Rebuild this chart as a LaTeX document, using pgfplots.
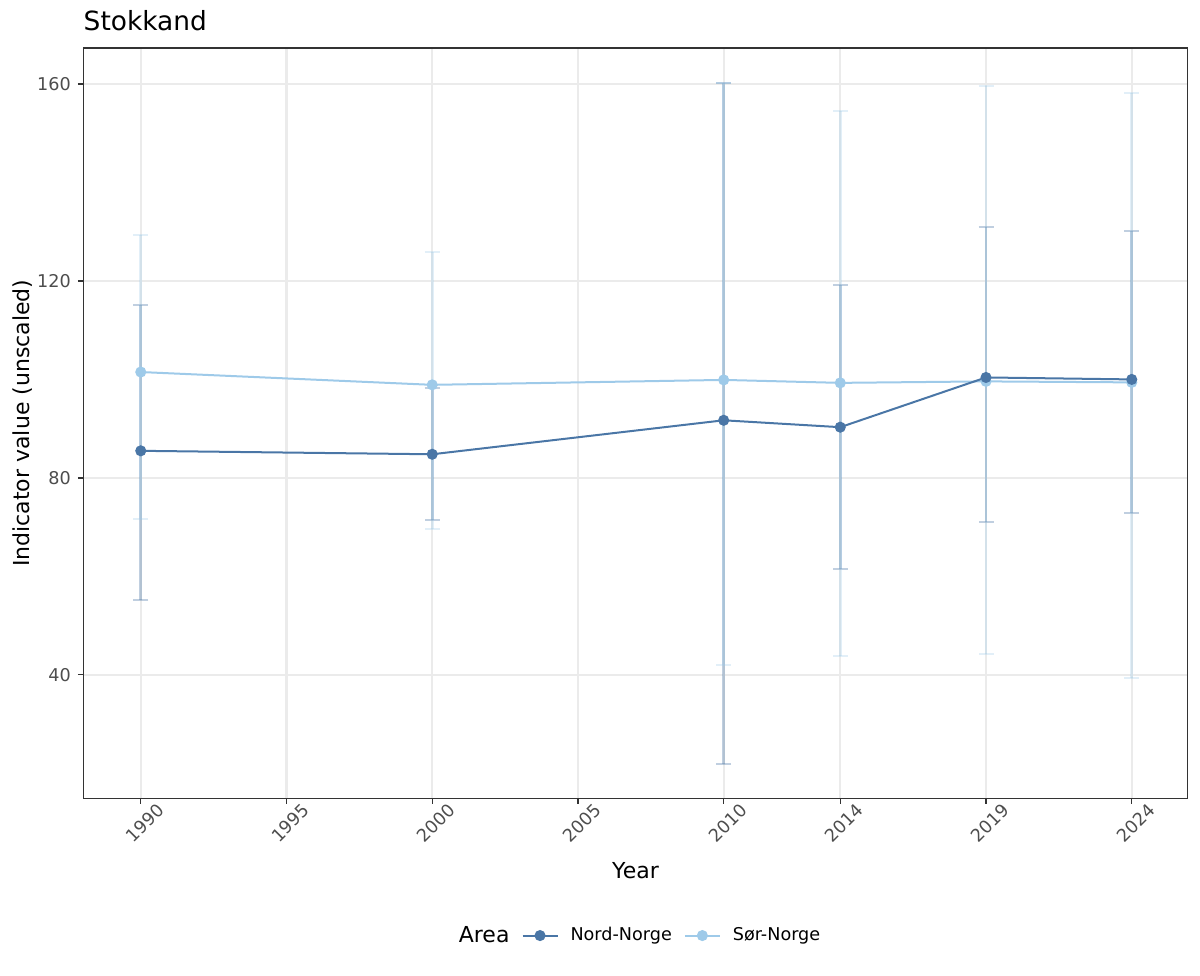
\documentclass[border=0pt]{standalone}
\usepackage{pgfplots}
\pgfplotsset{compat=1.18}
\usepackage{fontspec}
\setmainfont{DejaVu Sans}
\definecolor{nord}{HTML}{4A76A6}
\definecolor{sor}{HTML}{9ECAE9}
\definecolor{gridc}{HTML}{EBEBEB}
\definecolor{tickc}{HTML}{4D4D4D}
\definecolor{framec}{HTML}{333333}
\begin{document}
\begin{tikzpicture}
\useasboundingbox (-41.65pt,-88.5pt) rectangle (558pt,399pt);
\begin{axis}[
  scale only axis, width=551.85pt, height=375pt,
  at={(0,0)}, anchor=south west,
  xmin=1988.03, xmax=2025.92, ymin=14.9, ymax=167.3,
  xtick={1990,1995,2000,2005,2010,2014,2019,2024},
  xticklabels={1990,1995,2000,2005,2010,2014,2019,2024},
  ytick={40,80,120,160}, yticklabels={40,80,120,160},
  grid=major, major grid style={gridc, line width=1.1pt},
  axis line style={framec, line width=0.6pt},
  tick align=outside, major tick length=2.75pt,
  tick style={framec, line width=0.6pt},
  xtick pos=left, ytick pos=left,
  ticklabel style={font=\fontsize{8.8}{10}\selectfont, text=tickc},
  x tick label style={anchor=north east, inner sep=0pt, xshift=7.5pt, yshift=1pt, rotate=45},
  xlabel={Year}, ylabel={Indicator value (unscaled)},
  label style={font=\fontsize{11}{13}\selectfont},
  xlabel style={at={(axis description cs:0.5,-0.096)}, anchor=center},
  ylabel style={at={(axis description cs:-0.055,0.5)}, anchor=center},
  title={Stokkand},
  title style={at={(axis description cs:0,1)}, anchor=base west, yshift=2.75pt, font=\fontsize{13.2}{15}\selectfont, inner sep=0pt},
  legend columns=3,
  legend style={at={(axis description cs:0.5,-0.1827)}, anchor=center, draw=none, fill=none,
    font=\fontsize{8.8}{10}\selectfont, column sep=4pt},
  legend image code/.code={\draw[mark repeat=2, mark phase=2] plot coordinates {(0pt,0pt) (8.75pt,0pt) (17.5pt,0pt)};},
]
% error bars
\addplot[draw=none, no marks, forget plot,
  error bars/.cd, y dir=both, y explicit,
  error bar style={draw=nord, opacity=0.35, line width=1.3pt},
  error mark options={draw=nord, opacity=0.35, line width=1pt, mark size=3.75pt, rotate=90}]
  coordinates {
  (1990,85.5) += (0,29.7) -= (0,30.3)
  (2000,84.8) += (0,13.5) -= (0,13.3)
  (2010,91.7) += (0,68.5) -= (0,69.9)
  (2014,90.3) += (0,28.9) -= (0,28.8)
  (2019,100.4) += (0,30.6) -= (0,29.3)
  (2024,100.0) += (0,30.1) -= (0,27.1)
  };
\addplot[draw=none, no marks, forget plot,
  error bars/.cd, y dir=both, y explicit,
  error bar style={draw=sor, opacity=0.3, line width=1.3pt},
  error mark options={draw=sor, opacity=0.3, line width=1pt, mark size=3.75pt, rotate=90}]
  coordinates {
  (1990,101.5) += (0,27.8) -= (0,29.8)
  (2000,98.9) += (0,27.0) -= (0,29.3)
  (2010,99.9) += (0,60.3) -= (0,57.9)
  (2014,99.3) += (0,55.2) -= (0,55.5)
  (2019,99.6) += (0,60.0) -= (0,55.3)
  (2024,99.4) += (0,58.8) -= (0,60.1)
  };
% lines and points
\addplot[sor, line width=1pt, mark=*, mark size=2.25pt, forget plot] coordinates {
  (1990,101.5) (2000,98.9) (2010,99.9) (2014,99.3) (2019,99.6) (2024,99.4)};
\addplot[nord, line width=1pt, mark=*, mark size=2.25pt, forget plot] coordinates {
  (1990,85.5) (2000,84.8) (2010,91.7) (2014,90.3) (2019,100.4) (2024,100.0)};
\addlegendimage{empty legend}
\addlegendentry{\fontsize{11}{13}\selectfont Area\hspace{4pt}}
\addlegendimage{nord, line width=1pt, mark=*, mark size=2.25pt}
\addlegendentry{Nord-Norge}
\addlegendimage{sor, line width=1pt, mark=*, mark size=2.25pt}
\addlegendentry{Sør-Norge}
\end{axis}
\end{tikzpicture}
\end{document}
